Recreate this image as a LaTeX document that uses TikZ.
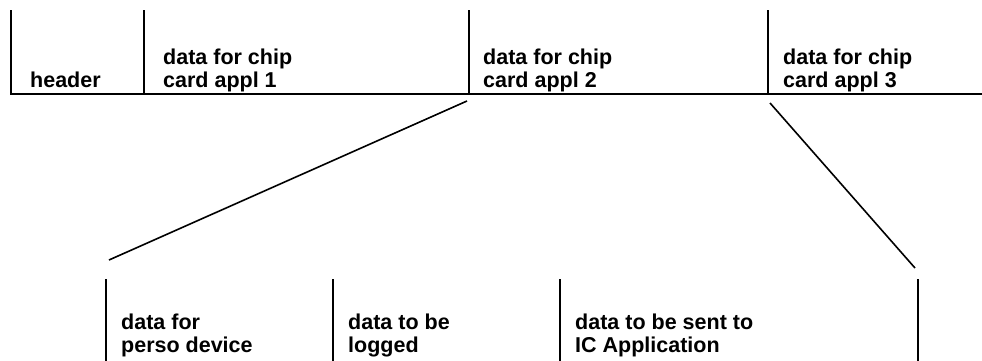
\documentclass[tikz,border=0pt]{standalone}
\usepackage{fontspec}
\setmainfont{Liberation Sans}
\begin{document}
\begin{tikzpicture}[x=1pt,y=-1pt,
  lbl/.style={font=\bfseries\fontsize{21.5}{22.5}\selectfont, inner sep=0pt, anchor=base west, align=left},
  sep/.style={line width=2.6pt},
  rule/.style={line width=2.4pt},
  link/.style={line width=1.6pt}]
\useasboundingbox (0,0) rectangle (982,360);
% top row
\coordinate (tl) at (11,94);
\coordinate (tr) at (982,94);
\draw[rule] (tl) -- (tr);
\foreach \n/\x in {a/11,b/144,c/469,d/768}{
  \coordinate (t\n) at (\x,10);
  \coordinate (b\n) at (\x,95);
  \draw[sep] (t\n) -- (b\n);
}
\node[lbl] (hdr) at (30,87) {header};
\node[lbl] (app1) at (163,87) {data for chip\\card appl 1};
\node[lbl] (app2) at (483,87) {data for chip\\card appl 2};
\node[lbl] (app3) at (783,87) {data for chip\\card appl 3};
% bottom row
\foreach \n/\x in {a/106,b/333,c/560,d/918}{
  \coordinate (u\n) at (\x,279);
  \coordinate (v\n) at (\x,362);
  \draw[sep] (u\n) -- (v\n);
}
\node[lbl] (perso) at (121,352) {data for\\perso device};
\node[lbl] (log) at (348,352) {data to be\\logged};
\node[lbl] (ic) at (575,352) {data to be sent to\\IC Application};
% expansion lines
\coordinate (d1s) at (467,101);
\coordinate (d1e) at (109,260);
\coordinate (d2s) at (770,103);
\coordinate (d2e) at (915,268);
\draw[link] (d1s) -- (d1e);
\draw[link] (d2s) -- (d2e);
\end{tikzpicture}
\end{document}
